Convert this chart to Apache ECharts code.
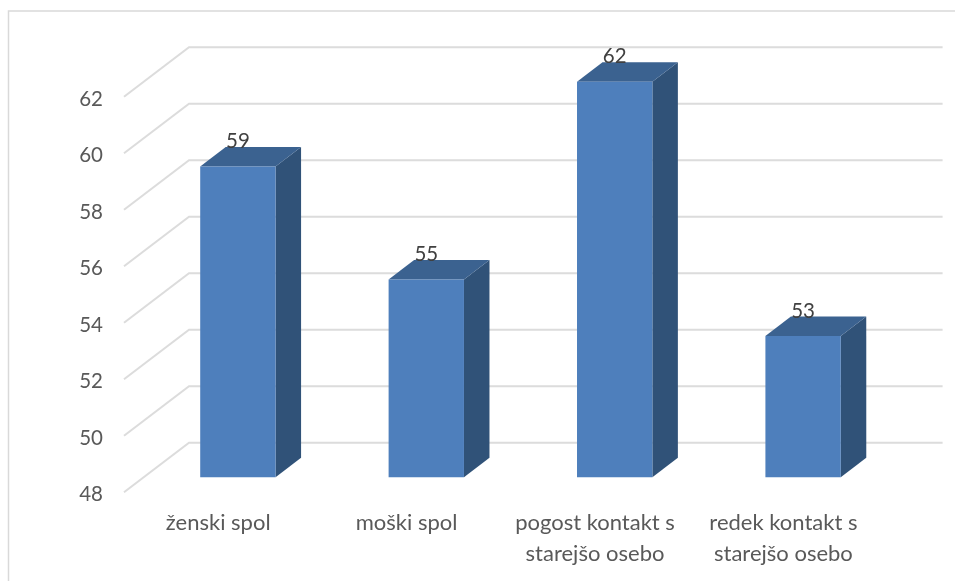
<!DOCTYPE html>
<html>
<head>
<meta charset="utf-8">
<style>html,body{margin:0;padding:0;background:#fff}#c{width:955px;height:581px}</style>
<script src="https://cdn.jsdelivr.net/npm/echarts@6/dist/echarts.min.js"></script>
</head>
<body>
<div id="c"></div>
<script>
const categories = ['ženski spol', 'moški spol', 'pogost kontakt s\nstarejšo osebo', 'redek kontakt s\nstarejšo osebo'];
const values = [59, 55, 62, 53];
const yTicks = [48, 50, 52, 54, 56, 58, 60, 62];

// Oblique projection of the 3D look, as fractions of one category band
const wallDX = 0.345, wallDY = 0.2627;   // front floor edge -> back wall
const planeDX = 0.1045, planeDY = 0.0796; // front floor edge -> bar front face
const barDX = 0.1354, barDY = 0.1035;    // bar depth
const barW = 0.4;

const chart = echarts.init(document.getElementById('c'), null, {renderer: 'canvas'});
chart.setOption({
  animation: false,
  backgroundColor: '#fff',
  textStyle: {fontFamily: 'Lato'},
  graphic: [{
    type: 'polyline', silent: true,
    shape: {points: [[8.5, 581], [8.5, 11], [955, 11]]},
    style: {stroke: '#D9D9D9', lineWidth: 1.5, fill: null}
  }],
  grid: {left: 124, top: 96.7, width: 753.6, height: 395.6, containLabel: false},
  xAxis: {
    type: 'category', data: categories,
    axisLine: {show: false}, axisTick: {show: false}, splitLine: {show: false},
    axisLabel: {color: '#595959', fontSize: 22, fontFamily: 'Lato', margin: 15.5, lineHeight: 30.5, interval: 0}
  },
  yAxis: {
    type: 'value', min: yTicks[0], max: yTicks[yTicks.length - 1], interval: 2,
    axisLine: {show: false}, axisTick: {show: false}, splitLine: {show: false},
    axisLabel: {
      margin: 21, formatter: '{n|{value}}',
      rich: {n: {color: '#595959', fontSize: 20.5, fontFamily: 'Lato', padding: [5, 0, 0, 0]}}
    }
  },
  series: [{
    type: 'custom', coordinateSystem: 'cartesian2d', clip: false, z: 2, silent: true,
    data: yTicks.map(v => [0, v]),
    encode: {x: 0, y: 1},
    renderItem(params, api) {
      const band = api.size([1, 0])[0];
      const p = api.coord([0, api.value(1)]);
      const left = p[0] - band / 2, y = p[1];
      const bx = left + band * wallDX, by = y - band * wallDY;
      return {
        type: 'polyline',
        shape: {points: [[left, y], [bx, by], [bx + band * categories.length, by]]},
        style: {stroke: '#DCDCDC', lineWidth: 2, fill: null}
      };
    }
  }, {
    type: 'custom', coordinateSystem: 'cartesian2d', clip: false, z: 3, silent: true,
    data: values.map((v, i) => [i, v]),
    encode: {x: 0, y: 1},
    renderItem(params, api) {
      const band = api.size([1, 0])[0];
      const top = api.coord([api.value(0), api.value(1)]);
      const base = api.coord([api.value(0), yTicks[0]]);
      const cx = top[0] + band * planeDX;
      const w = band * barW / 2;
      const yT = top[1] - band * planeDY, yB = base[1] - band * planeDY;
      const dx = band * barDX, dy = band * barDY;
      const x0 = cx - w, x1 = cx + w;
      return {
        type: 'group',
        children: [
          {type: 'polygon', shape: {points: [[x1, yT], [x1 + dx, yT - dy], [x1 + dx, yB - dy], [x1, yB]]}, style: {fill: '#305278'}},
          {type: 'polygon', shape: {points: [[x0, yT], [x0 + dx, yT - dy], [x1 + dx, yT - dy], [x1, yT]]}, style: {fill: '#3B6290'}},
          {type: 'rect', shape: {x: x0, y: yT, width: x1 - x0, height: yB - yT}, style: {fill: '#4E7FBC'}},
          {type: 'text', style: {
            text: String(api.value(1)), x: cx, y: yT - band * 0.133,
            align: 'center', verticalAlign: 'middle',
            fill: '#404040', fontSize: 20.5, fontFamily: 'Lato'
          }}
        ]
      };
    }
  }]
});
</script>
</body>
</html>
